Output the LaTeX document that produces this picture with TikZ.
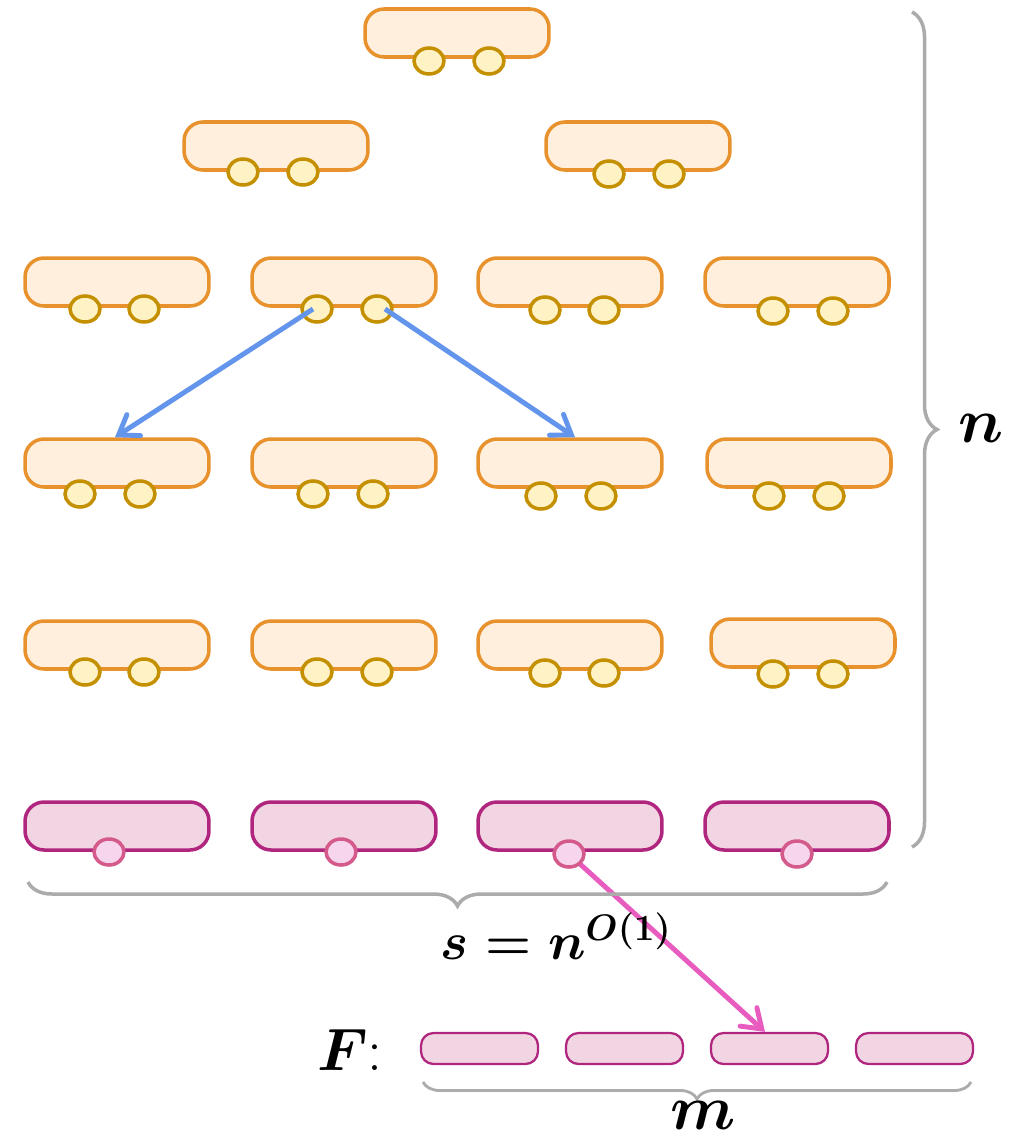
\RequirePackage{fix-cm}
\documentclass[tikz,border=0pt]{standalone}
\usepackage{amsmath}
\usetikzlibrary{shapes.geometric,arrows.meta,decorations.pathreplacing}
\definecolor{obord}{HTML}{E8922E}
\definecolor{ofill}{HTML}{FFEFDC}
\definecolor{cbord}{HTML}{C49000}
\definecolor{cfill}{HTML}{FFF2C4}
\definecolor{pbord}{HTML}{B0267F}
\definecolor{pfill}{HTML}{F2D5E3}
\definecolor{pcbord}{HTML}{D45A8C}
\definecolor{pcfill}{HTML}{F7D5EC}
\definecolor{bluearr}{HTML}{6495ED}
\definecolor{pinkarr}{HTML}{E85CC0}
\definecolor{bracegray}{HTML}{ABABAB}
\tikzset{
  gate/.style={draw=obord,fill=ofill,line width=2pt,rounded corners=0.38cm,minimum width=3.68cm,minimum height=0.96cm,inner sep=0pt},
  pgate/.style={draw=pbord,fill=pfill,line width=2pt,rounded corners=0.38cm,minimum width=3.68cm,minimum height=0.96cm,inner sep=0pt},
  fgate/.style={draw=pbord,fill=pfill,line width=1.3pt,rounded corners=0.25cm,minimum width=2.34cm,minimum height=0.62cm,inner sep=0pt},
  wire/.style={draw=cbord,fill=cfill,line width=2pt,ellipse,minimum width=0.6cm,minimum height=0.52cm,inner sep=0pt},
  pwire/.style={draw=pcbord,fill=pcfill,line width=2pt,ellipse,minimum width=0.6cm,minimum height=0.52cm,inner sep=0pt},
  barr/.style={draw=bluearr,line width=2.8pt,-{Straight Barb[length=0.36cm,width=0.5cm,line cap=round]}},
  parr/.style={draw=pinkarr,line width=2.8pt,-{Straight Barb[length=0.36cm,width=0.5cm,line cap=round]}},
  bracestyle/.style={draw=bracegray,line width=2pt,decorate},
  labtext/.style={inner sep=0pt},
}
\newcommand{\bigsz}{\fontsize{36}{40}\selectfont}
\newcommand{\midsz}{\fontsize{30}{34}\selectfont}
\newcommand{\fsz}{\fontsize{34}{38}\selectfont}
\begin{document}
\begin{tikzpicture}[x=0.02cm,y=-0.02cm]
\useasboundingbox (0,0) rectangle (1017,1139);
% orange gates: name/cx/cy/c1x/c2x/ccy
\foreach \nm/\cx/\cy/\ax/\bx/\ccy in {
  t/457/33/429/489/61,
  r2c1/276/146/243/303/172, r2c2/638/146/609/669/174,
  r3c1/117/282/85/144/309, r3c2/344/282/317/377/309, r3c3/570/282/545/604/310, r3c4/797/282/773/833/311,
  r4c1/117/463/80/140/494, r4c2/344/463/313/373/494, r4c3/570/463/541/601/496, r4c4/799/463/769/829/496,
  r5c1/117/645/85/144/672, r5c2/344/645/317/377/672, r5c3/570/645/545/604/673, r5c4/803/643/773/833/674}{
  \node[gate] (\nm) at (\cx,\cy) {};
  \node[wire] (\nm a) at (\ax,\ccy) {};
  \node[wire] (\nm b) at (\bx,\ccy) {};
}
% pink gates
\foreach \nm/\cx/\cy in {r6c1/117/826, r6c2/344/826, r6c3/570/826, r6c4/797/826}{
  \node[pgate] (\nm) at (\cx,\cy) {};
}
% F row
\foreach \nm/\cx in {F1/479.5, F2/624.5, F3/769.5, F4/914.5}{
  \node[fgate] (\nm) at (\cx,1048.5) {};
}
% pink arrow (below the wire circles)
\coordinate (pstart) at (569,854);
\draw[parr] (pstart) -- ([xshift=-0.09cm]F3.north);
\foreach \nm/\ax/\ccy in {r6c1/109/852, r6c2/341/852, r6c3/569/854, r6c4/797/854}{
  \node[pwire] (\nm c) at (\ax,\ccy) {};
}
% blue arrows
\draw[barr] ([xshift=-0.08cm]r3c2a.center) -- ([xshift=-0.04cm]r4c1.north);
\draw[barr] ([xshift=0.16cm]r3c2b.center) -- ([xshift=0.1cm]r4c3.north);
% braces
\coordinate (nb1) at (912,12);
\coordinate (nb2) at (912,847);
\draw[bracestyle,decoration={brace,amplitude=0.5cm}] (nb1) -- (nb2);
\node[labtext] (nlab) at (981,428) {\bigsz$\boldsymbol{n}$};
\coordinate (sb1) at (887,882);
\coordinate (sb2) at (28,882);
\draw[bracestyle,decoration={brace,amplitude=0.48cm}] (sb1) -- (sb2);
\node[labtext] (slab) at (556,936) {\midsz$\boldsymbol{s=n^{O(1)}}$};
\coordinate (mb1) at (971,1082);
\coordinate (mb2) at (423,1082);
\draw[bracestyle,line width=1.6pt,decoration={brace,amplitude=0.34cm}] (mb1) -- (mb2);
\node[labtext] (mlab) at (703,1115) {\bigsz$\boldsymbol{m}$};
\node[labtext] (flab) at (350,1050) {\fsz$\boldsymbol{F}$:};
\end{tikzpicture}
\end{document}
